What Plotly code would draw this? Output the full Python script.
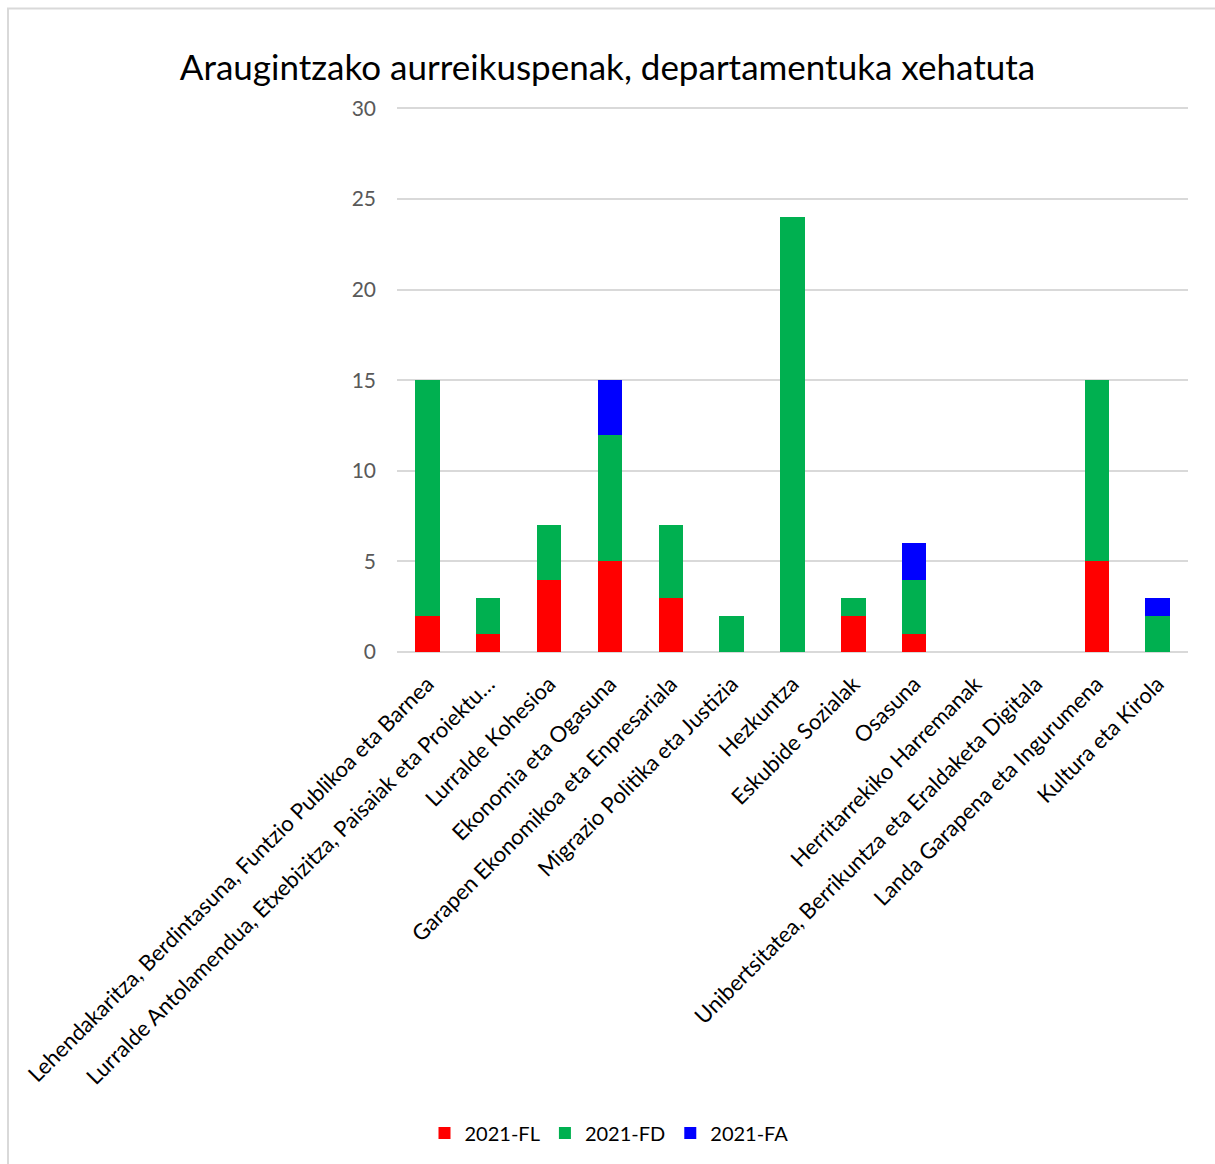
import plotly.graph_objects as go

categories = [
    "Lehendakaritza, Berdintasuna, Funtzio Publikoa eta Barnea",
    "Lurralde Antolamendua, Etxebizitza, Paisaiak eta Proiektu…",
    "Lurralde Kohesioa",
    "Ekonomia eta Ogasuna",
    "Garapen Ekonomikoa eta Enpresariala",
    "Migrazio Politika eta Justizia",
    "Hezkuntza",
    "Eskubide Sozialak",
    "Osasuna",
    "Herritarrekiko Harremanak",
    "Unibertsitatea, Berrikuntza eta Eraldaketa Digitala",
    "Landa Garapena eta Ingurumena",
    "Kultura eta Kirola",
]
fl = [2, 1, 4, 5, 3, 0, 0, 2, 1, 0, 0, 5, 0]
fd = [13, 2, 3, 7, 4, 2, 24, 1, 3, 0, 0, 10, 2]
fa = [0, 0, 0, 3, 0, 0, 0, 0, 2, 0, 0, 0, 1]
series_names = ["2021-FL", "2021-FD", "2021-FA"]
y_ticks = [0, 5, 10, 15, 20, 25, 30]

FONT = "Lato, 'Open Sans', sans-serif"
colors = ["#FF0000", "#00B050", "#0000FF"]

fig = go.Figure()
for name, vals, col in zip(series_names, [fl, fd, fa], colors):
    fig.add_trace(go.Bar(x=categories, y=vals, name=name, marker_color=col,
                         marker_line_width=0))

L, R, T, B = 397, 27, 107, 512
W, H = 1215, 1164
pw, ph = W - L - R, H - T - B

def px(x):
    return (x - L) / pw

def py(y):
    return (H - B - y) / ph

fig.update_layout(
    width=W, height=H,
    barmode="stack", bargap=0.6,
    margin=dict(l=L, r=R, t=T, b=B, autoexpand=False),
    paper_bgcolor="white", plot_bgcolor="white",
    font=dict(family=FONT, size=20, color="#000000"),
    title=dict(text="Araugintzako aurreikuspenak, departamentuka xehatuta",
               x=0.5, xref="container", xanchor="center",
               y=1 - 68 / H, yref="container", yanchor="middle",
               font=dict(family=FONT, size=35, color="#000000")),
    legend=dict(orientation="h", x=px(609), xanchor="center",
                y=py(1133), yanchor="middle",
                font=dict(family=FONT, size=20, color="#000000"),
                itemwidth=30, traceorder="normal"),
    xaxis=dict(tickangle=-45, showgrid=False, showline=False, ticks="",
               automargin=False, ticklabelstandoff=14,
               tickfont=dict(family=FONT, size=22, color="#000000")),
    yaxis=dict(range=[0, 30.08], tickvals=y_ticks, showgrid=True,
               gridcolor="#D9D9D9", gridwidth=1.5, zeroline=True,
               zerolinecolor="#D9D9D9", zerolinewidth=1.5, showline=False,
               ticks="", ticklabelstandoff=20, automargin=False,
               tickfont=dict(family=FONT, size=21, color="#595959")),
    shapes=[dict(type="rect", xref="paper", yref="paper",
                 x0=px(8), x1=px(1260), y0=py(1200), y1=py(8.5),
                 line=dict(color="#D9D9D9", width=2), layer="below")],
)

fig.write_html("out.html", config={"displayModeBar": False},
               post_script="document.body.style.margin='0';")
